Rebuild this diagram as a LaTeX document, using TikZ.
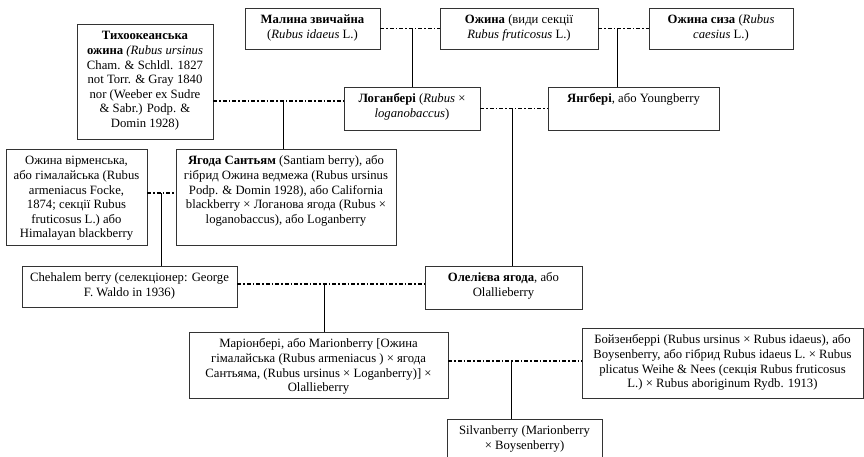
\documentclass[tikz,border=0pt]{standalone}
\usepackage{fontspec}
\setmainfont{Liberation Serif}
\usetikzlibrary{calc}
\newcommand{\mkbox}[6]{%
  \node[box, minimum width=#4pt, minimum height=#5pt] (#1) at (#2,#3) {};
  \node[txt] (#1t) at ([yshift=-6pt]#1.north) {\strut #6};}
\begin{document}
\begin{tikzpicture}[x=1pt,y=-1pt,
  box/.style={draw=black!80, line width=0.9pt, inner sep=0pt, rectangle},
  txt/.style={anchor=north, align=center, inner sep=0pt, font=\fontsize{12.7}{14.6}\selectfont, text=black},
  dd/.style={line width=1.8pt, dash pattern=on 4pt off 2pt on 1.5pt off 2pt},
  ln/.style={line width=1pt}]
\useasboundingbox (0,0) rectangle (864,457);
\clip (0,0) rectangle (864,457);

\mkbox{T}{145}{81.5}{136}{115}{\textbf{Тихоокеанська}\\\textbf{ожина} \textit{(Rubus ursinus}\\Cham. \& Schldl. 1827\\not Torr. \& Gray 1840\\nor (Weeber ex Sudre\\\& Sabr.) Podp. \&\\Domin 1928)}
\mkbox{M}{312.5}{28.5}{135}{41}{\textbf{Малина звичайна}\\(\textit{Rubus idaeus} L.)}
\mkbox{O}{519}{28.5}{158}{41}{\textbf{Ожина} (види секції\\\textit{Rubus fruticosus} L.)}
\mkbox{OS}{721}{28.5}{144}{41}{\textbf{Ожина сиза} (\textit{Rubus}\\\textit{caesius} L.)}
\mkbox{L}{412}{108.5}{136}{43}{\textbf{Логанбері} (\textit{Rubus} ×\\\textit{loganobaccus})}
\mkbox{Y}{633.5}{108.5}{171}{43}{\textbf{Янгбері}, або Youngberry}
\mkbox{A}{76.5}{197}{141}{96}{Ожина вірменська,\\або гімалайська (Rubus\\armeniacus Focke,\\1874; секції Rubus\\fruticosus L.) або\\Himalayan blackberry}
\mkbox{S}{286}{197}{220}{96}{\textbf{Ягода Сантьям} (Santiam berry), або\\гібрид Ожина ведмежа (Rubus ursinus\\Podp. \& Domin 1928), або California\\blackberry × Логанова ягода (Rubus ×\\loganobaccus), або Loganberry}
\mkbox{C}{129.5}{286.5}{215}{41}{Chehalem berry (селекціонер: George\\F. Waldo in 1936)}
\mkbox{Ol}{503.5}{287.5}{157}{43}{\textbf{Олелієва ягода}, або\\Olallieberry}
\mkbox{Mar}{318.5}{365}{259}{66}{Маріонбері, або Marionberry [Ожина\\гімалайська (Rubus armeniacus ) × ягода\\Сантьяма, (Rubus ursinus × Loganberry)] ×\\Olallieberry}
\mkbox{B}{722.5}{363}{281}{70}{Бойзенберрі (Rubus ursinus × Rubus idaeus), або\\Boysenberry, або гібрид Rubus idaeus L. × Rubus\\plicatus Weihe \& Nees (секція Rubus fruticosus\\L.) × Rubus aboriginum Rydb. 1913)}
\mkbox{Sv}{524.5}{447}{155}{56}{Silvanberry (Marionberry\\× Boysenberry)}

\draw[dd] (M.east) -- (O.west);
\draw[ln] (L.north) -- (L.north |- M.east);
\draw[dd] (O.east) -- (OS.west);
\coordinate (jOY) at (617,28.5);
\draw[ln] (jOY) -- (jOY |- Y.north);
\coordinate (jTL) at (283,101);
\draw[dd] (jTL -| T.east) -- (jTL -| L.west);
\draw[ln] (jTL) -- (jTL |- S.north);
\draw[dd] (L.east) -- (Y.west);
\coordinate (jLY) at (512,108.5);
\draw[ln] (jLY) -- (jLY |- Ol.north);
\coordinate (jAS) at (161,193);
\draw[dd] (jAS -| A.east) -- (jAS -| S.west);
\draw[ln] (jAS) -- (jAS |- C.north);
\coordinate (jCO) at (324,284);
\draw[dd] (jCO -| C.east) -- (jCO -| Ol.west);
\draw[ln] (jCO) -- (jCO |- Mar.north);
\coordinate (jMB) at (511,361);
\draw[dd] (jMB -| Mar.east) -- (jMB -| B.west);
\draw[ln] (jMB) -- (jMB |- Sv.north);
\end{tikzpicture}
\end{document}
